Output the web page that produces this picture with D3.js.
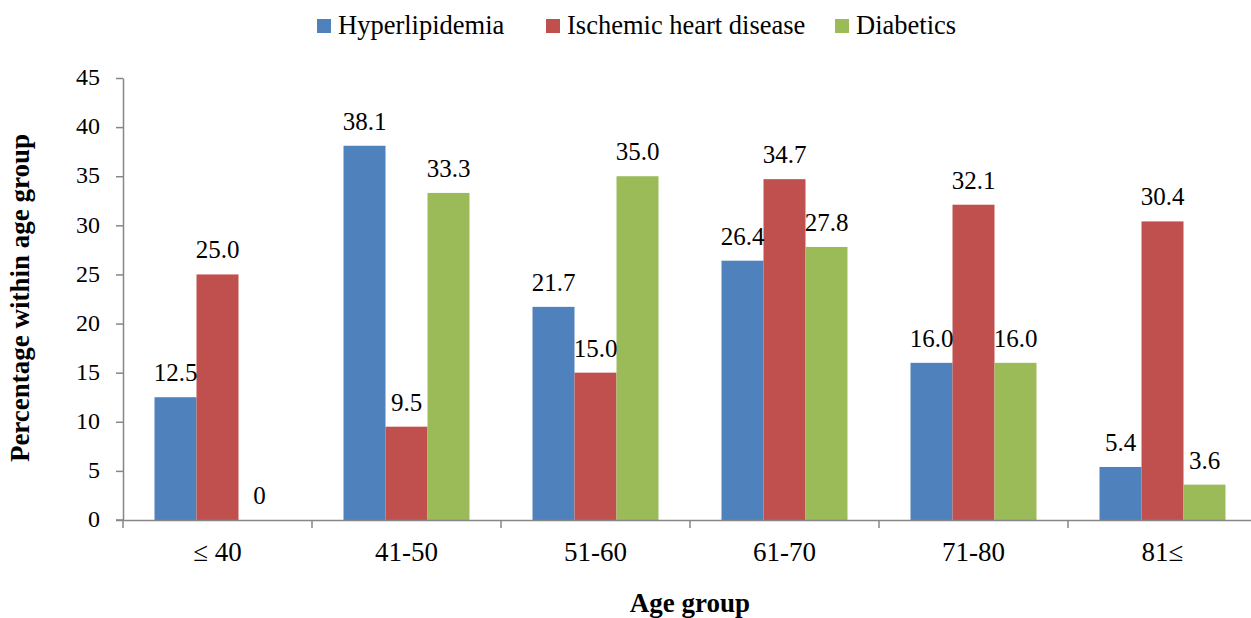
<!DOCTYPE html>
<html>
<head>
<meta charset="utf-8">
<script src="https://cdn.jsdelivr.net/npm/d3@7"></script>
</head>
<body style="margin:0;background:#fff">
<svg id="chart" width="1251" height="618" style="display:block;background:#fff"></svg>
<script>
// Age groups and the share of each condition within the group (%)
const ageGroups = ["\u2264 40", "41-50", "51-60", "61-70", "71-80", "81\u2264"];
const seriesNames = ["Hyperlipidemia", "Ischemic heart disease", "Diabetics"];
const hyperlipidemia = [12.5, 38.1, 21.7, 26.4, 16.0, 5.4];
const ischemicHeartDisease = [25.0, 9.5, 15.0, 34.7, 32.1, 30.4];
const diabetics = [0, 33.3, 35.0, 27.8, 16.0, 3.6];
const yTicks = [0, 5, 10, 15, 20, 25, 30, 35, 40, 45];
const seriesColors = ["#4F81BD", "#C0504D", "#9BBB59"];

const seriesValues = [hyperlipidemia, ischemicHeartDisease, diabetics];
const FONT = "Liberation Serif";

const svg = d3.select("#chart");
const plot = { left: 123, right: 1257, top: 78, bottom: 520 };
const axisColor = "#868686";

const x = d3.scaleBand().domain(ageGroups).range([plot.left, plot.right]).padding(0);
const bw = x.bandwidth();
const xs = d3.scaleBand().domain(seriesNames).range([bw / 6, bw * 5 / 6]).padding(0);
const y = d3.scaleLinear().domain([0, 45]).range([plot.bottom, plot.top]);

function serif(sel, size, bold) {
  return sel.style("font-family", FONT)
    .style("font-size", size + "px")
    .style("font-weight", bold ? "bold" : "normal")
    .attr("fill", "#000");
}

// Bars
const groups = svg.append("g").selectAll("g")
  .data(ageGroups)
  .join("g")
  .attr("transform", d => `translate(${x(d)},0)`);

const cells = (d, i) => seriesNames.map((s, k) => ({ s, k, v: seriesValues[k][i] }));

groups.selectAll("rect")
  .data(cells)
  .join("rect")
  .attr("x", d => xs(d.s))
  .attr("y", d => y(d.v))
  .attr("width", xs.bandwidth())
  .attr("height", d => y(0) - y(d.v))
  .attr("fill", d => seriesColors[d.k]);

// Y axis
const yAxis = svg.append("g")
  .attr("transform", `translate(${plot.left},0)`)
  .call(d3.axisLeft(y).tickValues(yTicks).tickSize(7).tickPadding(16).tickSizeOuter(0));
yAxis.attr("font-family", FONT);
yAxis.select(".domain").attr("stroke", axisColor).attr("stroke-width", 1.5);
yAxis.selectAll(".tick line").attr("stroke", axisColor).attr("stroke-width", 1.5);
serif(yAxis.selectAll(".tick text"), 24).attr("dy", "0.28em");

// X axis
const xAxis = svg.append("g")
  .attr("transform", `translate(0,${plot.bottom})`)
  .call(d3.axisBottom(x).tickSize(0).tickSizeOuter(0));
xAxis.attr("font-family", FONT);
xAxis.select(".domain").attr("stroke", axisColor).attr("stroke-width", 1.5);
serif(xAxis.selectAll(".tick text"), 27).attr("y", 41).attr("dy", 0);

// Category boundary ticks
svg.append("g").selectAll("line")
  .data(ageGroups)
  .join("line")
  .attr("x1", d => x(d)).attr("x2", d => x(d))
  .attr("y1", plot.bottom).attr("y2", plot.bottom + 8)
  .attr("stroke", axisColor).attr("stroke-width", 1.5);
svg.append("line")
  .attr("x1", plot.left - 7).attr("x2", plot.left)
  .attr("y1", plot.bottom).attr("y2", plot.bottom)
  .attr("stroke", axisColor).attr("stroke-width", 1.5);

// Value labels
serif(groups.selectAll("text.val")
  .data(cells)
  .join("text")
  .attr("class", "val")
  .attr("x", d => xs(d.s) + xs.bandwidth() / 2)
  .attr("y", d => y(d.v) - 16)
  .attr("text-anchor", "middle")
  .text(d => d.v === 0 ? "0" : d3.format(".1f")(d.v)), 25);

// Axis titles
serif(svg.append("text")
  .attr("transform", "translate(29,298) rotate(-90)")
  .attr("text-anchor", "middle")
  .text("Percentage within age group"), 27, true);

serif(svg.append("text")
  .attr("x", (plot.left + plot.right) / 2)
  .attr("y", 612)
  .attr("text-anchor", "middle")
  .text("Age group"), 27, true);

// Legend
const legendX = [317, 546, 835];
const legend = svg.append("g").selectAll("g")
  .data(seriesNames)
  .join("g")
  .attr("transform", (d, i) => `translate(${legendX[i]},19)`);
legend.append("rect")
  .attr("width", 14).attr("height", 14)
  .attr("fill", (d, i) => seriesColors[i]);
serif(legend.append("text")
  .attr("x", 21).attr("y", 15)
  .text(d => d), 26.5);
</script>
</body>
</html>
